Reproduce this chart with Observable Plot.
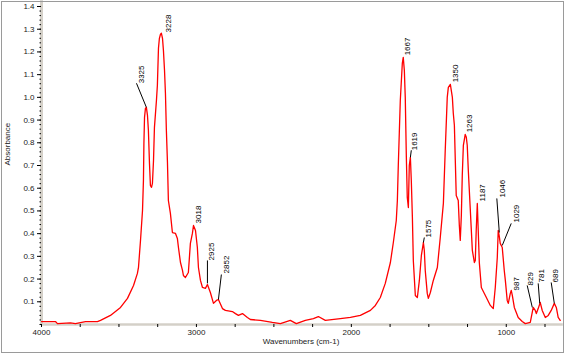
<!DOCTYPE html>
<html>
<head>
<meta charset="utf-8">
<script src="https://cdn.jsdelivr.net/npm/d3@7"></script>
<script src="https://cdn.jsdelivr.net/npm/@observablehq/plot@0.6"></script>
<style>
  html, body { margin: 0; padding: 0; background: #fff; }
  svg { display: block; outline: 1px solid #9a9a9a; outline-offset: -2px; }
</style>
</head>
<body>
<script>
// Spectrum (wavenumber in cm-1, absorbance)
const wavenumber = [4000,3910,3897,3813,3781,3716,3639,3619,3555,3490,3445,3406,3381,3374,3361,3348,3342,3339,3335,3329,3323,3316,3310,3303,3297,3290,3284,3277,3271,3258,3252,3245,3239,3232,3226,3219,3213,3206,3200,3194,3187,3181,3168,3155,3135,3123,3116,3103,3090,3084,3071,3052,3039,3026,3019,3006,2994,2987,2974,2961,2942,2929,2910,2890,2871,2858,2832,2813,2768,2748,2729,2703,2671,2652,2587,2510,2458,2394,2355,2297,2245,2213,2168,2071,2006,1942,1877,1845,1813,1781,1748,1729,1710,1703,1697,1684,1671,1665,1658,1652,1645,1639,1632,1626,1619,1613,1606,1600,1587,1574,1561,1548,1535,1529,1523,1510,1503,1490,1471,1445,1426,1406,1394,1381,1374,1361,1348,1342,1335,1329,1323,1310,1303,1297,1290,1284,1277,1265,1258,1252,1245,1232,1219,1206,1200,1194,1187,1181,1174,1161,1135,1103,1084,1071,1058,1052,1045,1039,1026,1013,1006,994,987,974,968,961,948,923,897,877,845,826,813,806,794,781,768,748,729,710,690,677,665,652];
const absorbance = [0.013,0.013,0.004,0.007,0.004,0.013,0.013,0.018,0.040,0.075,0.115,0.172,0.225,0.251,0.370,0.502,0.634,0.797,0.912,0.952,0.956,0.921,0.855,0.709,0.612,0.604,0.621,0.722,0.868,0.987,1.053,1.216,1.260,1.278,1.282,1.260,1.207,1.119,1.018,0.855,0.714,0.546,0.489,0.405,0.401,0.379,0.339,0.273,0.238,0.216,0.207,0.229,0.357,0.401,0.436,0.414,0.339,0.251,0.194,0.163,0.159,0.176,0.141,0.093,0.106,0.110,0.070,0.062,0.057,0.048,0.040,0.048,0.031,0.022,0.018,0.009,0.004,0.018,0.004,0.018,0.026,0.035,0.018,0.026,0.031,0.040,0.062,0.084,0.119,0.181,0.273,0.361,0.458,0.546,0.700,0.987,1.150,1.176,1.119,1.000,0.736,0.559,0.515,0.700,0.736,0.634,0.471,0.282,0.128,0.119,0.194,0.304,0.361,0.326,0.238,0.137,0.115,0.141,0.194,0.251,0.383,0.533,0.767,1.000,1.044,1.057,1.000,0.930,0.877,0.722,0.568,0.546,0.436,0.370,0.480,0.656,0.789,0.837,0.824,0.789,0.678,0.502,0.326,0.273,0.282,0.414,0.533,0.414,0.273,0.163,0.128,0.084,0.070,0.163,0.295,0.414,0.388,0.357,0.339,0.238,0.194,0.106,0.093,0.137,0.150,0.128,0.075,0.031,0.013,0.004,0.009,0.075,0.062,0.048,0.070,0.097,0.062,0.031,0.040,0.062,0.093,0.075,0.031,0.018];

// Peak annotations
const peakLabel = ["3325","3228","3018","2925","2852","1667","1619","1575","1350","1263","1187","1046","1029","987","829","781","689"];
const labelWn   = [3352,3181,2990,2900,2806,1639,1590,1503,1326,1235,1155,1026,935,932,845,771,684];
const labelA    = [1.062,1.286,0.445,0.282,0.225,1.185,0.767,0.383,1.066,0.846,0.542,0.559,0.449,0.150,0.172,0.185,0.185];

// Leader lines (from label end to peak)
const leaderFromWn = [3387,2929,2839,1613,1529,1061,968,865,794,710];
const leaderFromA  = [1.062,0.282,0.220,0.767,0.383,0.555,0.445,0.172,0.181,0.185];
const leaderToWn   = [3323,2929,2858,1619,1535,1045,1026,832,784,690];
const leaderToA    = [0.956,0.181,0.110,0.736,0.361,0.405,0.348,0.075,0.093,0.093];

// Axis ticks
const xMajorTicks = [4000,3000,2000,1000];
const xMinorTicks = d3.range(4000, 649, -250);
const yMajorTicks = d3.range(1, 15).map(d => d / 10);
const yMinorTicks = d3.range(0, 71).map(d => d / 50);

const spectrum = wavenumber.map((w, i) => ({w, a: absorbance[i]}));
const labels = peakLabel.map((t, i) => ({t, w: labelWn[i], a: labelA[i]}));
const leaders = leaderFromWn.map((w, i) => ({w1: w, a1: leaderFromA[i], w2: leaderToWn[i], a2: leaderToA[i]}));

const font = "Liberation Sans, Arial, sans-serif";
const band = "#d4d0c8";

const chart = Plot.plot({
  width: 565,
  height: 354,
  marginLeft: 41,
  marginRight: 5,
  marginTop: 6,
  marginBottom: 30,
  style: {fontFamily: font, fontSize: "8px", color: "#222", background: "#fff"},
  x: {domain: [4000, 650]},
  y: {domain: [0, 1.4]},
  marks: [
    // axis bands
    Plot.ruleX([4000], {y1: 0, y2: 1.425, stroke: band, strokeWidth: 3}),
    Plot.ruleY([0], {x1: 4000, x2: 632, stroke: band, strokeWidth: 2.5}),
    // y axis
    Plot.axisY({ticks: yMinorTicks, tickSize: 1.5, text: null, stroke: "#000"}),
    Plot.axisY({ticks: yMajorTicks, tickSize: 4, tickPadding: 3, tickFormat: d3.format(".1f"), fontSize: 8, label: null, stroke: "#000", fill: "#222"}),
    // x axis
    Plot.axisX({ticks: xMinorTicks, tickSize: 3, text: null, stroke: "#000"}),
    Plot.axisX({ticks: xMajorTicks, tickSize: 0, tickPadding: 5, tickFormat: d => String(d), fontSize: 8, label: null, fill: "#222"}),
    // titles
    Plot.text(["Absorbance"], {frameAnchor: "left", dx: -34, rotate: -90, fontSize: 8, fill: "#222"}),
    Plot.text(["Wavenumbers (cm-1)"], {frameAnchor: "bottom", dy: 19, fontSize: 8, fill: "#222"}),
    // spectrum
    Plot.line(spectrum, {x: "w", y: "a", stroke: "#ff0000", strokeWidth: 1.3}),
    // annotations
    Plot.link(leaders, {x1: "w1", y1: "a1", x2: "w2", y2: "a2", stroke: "#000", strokeWidth: 1}),
    Plot.text(labels, {x: "w", y: "a", text: "t", rotate: -90, textAnchor: "start", lineAnchor: "middle", fontSize: 8, fill: "#000"})
  ]
});

document.body.appendChild(chart);
</script>
</body>
</html>
